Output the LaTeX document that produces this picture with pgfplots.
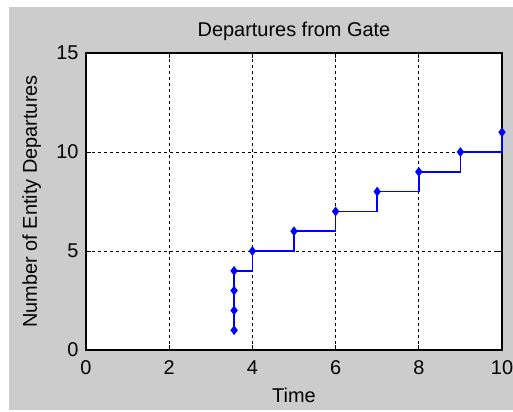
\documentclass[border=0pt]{standalone}
\usepackage{fontspec}
\setmainfont{Liberation Sans}
\usepackage{pgfplots}
\pgfplotsset{compat=1.18}
\definecolor{matgrey}{RGB}{204,204,204}
\begin{document}
\begin{tikzpicture}[x=1bp,y=1bp]
\fill[white] (0,0) rectangle (513,411);
\fill[matgrey] (9,1) rectangle (513,404);
\begin{axis}[
  at={(86bp,61bp)}, anchor=south west,
  scale only axis, width=416bp, height=297bp,
  xmin=0, xmax=10, ymin=0, ymax=15,
  xtick={0,2,4,6,8,10}, ytick={0,5,10,15},
  axis background/.style={fill=white},
  axis line style={black, line width=1.1bp},
  grid=major,
  major grid style={black, line width=0.9bp, dash pattern=on 3bp off 3bp},
  tick align=inside, major tick length=5bp,
  tick style={black, line width=0.8bp},
  font=\fontsize{20}{22}\selectfont,
  /pgf/number format/assume math mode=true,
  ticklabel style={font=\fontsize{20}{22}\selectfont},
  xticklabel style={yshift=-7bp},
  yticklabel style={xshift=-4bp},
  title={Departures from Gate},
  xlabel={Time},
  ylabel={Number of Entity Departures},
  every axis title shift=0pt,
  title style={at={(axis description cs:0.5,1.0572)}, anchor=base},
  xlabel style={at={(axis description cs:0.5,-0.1751)}, anchor=base},
  ylabel style={at={(axis description cs:-0.1178,0.5)}, anchor=base},
  clip=false,
]
\addplot[blue, line width=1.7bp, const plot, mark=diamond*, mark size=3.5bp,
  mark options={fill=blue, solid}]
  coordinates {(3.56,1) (3.56,2) (3.56,3) (3.56,4) (4,5) (5,6) (6,7) (7,8) (8,9) (9,10) (10,11)};
\end{axis}
\pgfresetboundingbox
\path[use as bounding box] (0,0) rectangle (513,411);
\end{tikzpicture}
\end{document}
